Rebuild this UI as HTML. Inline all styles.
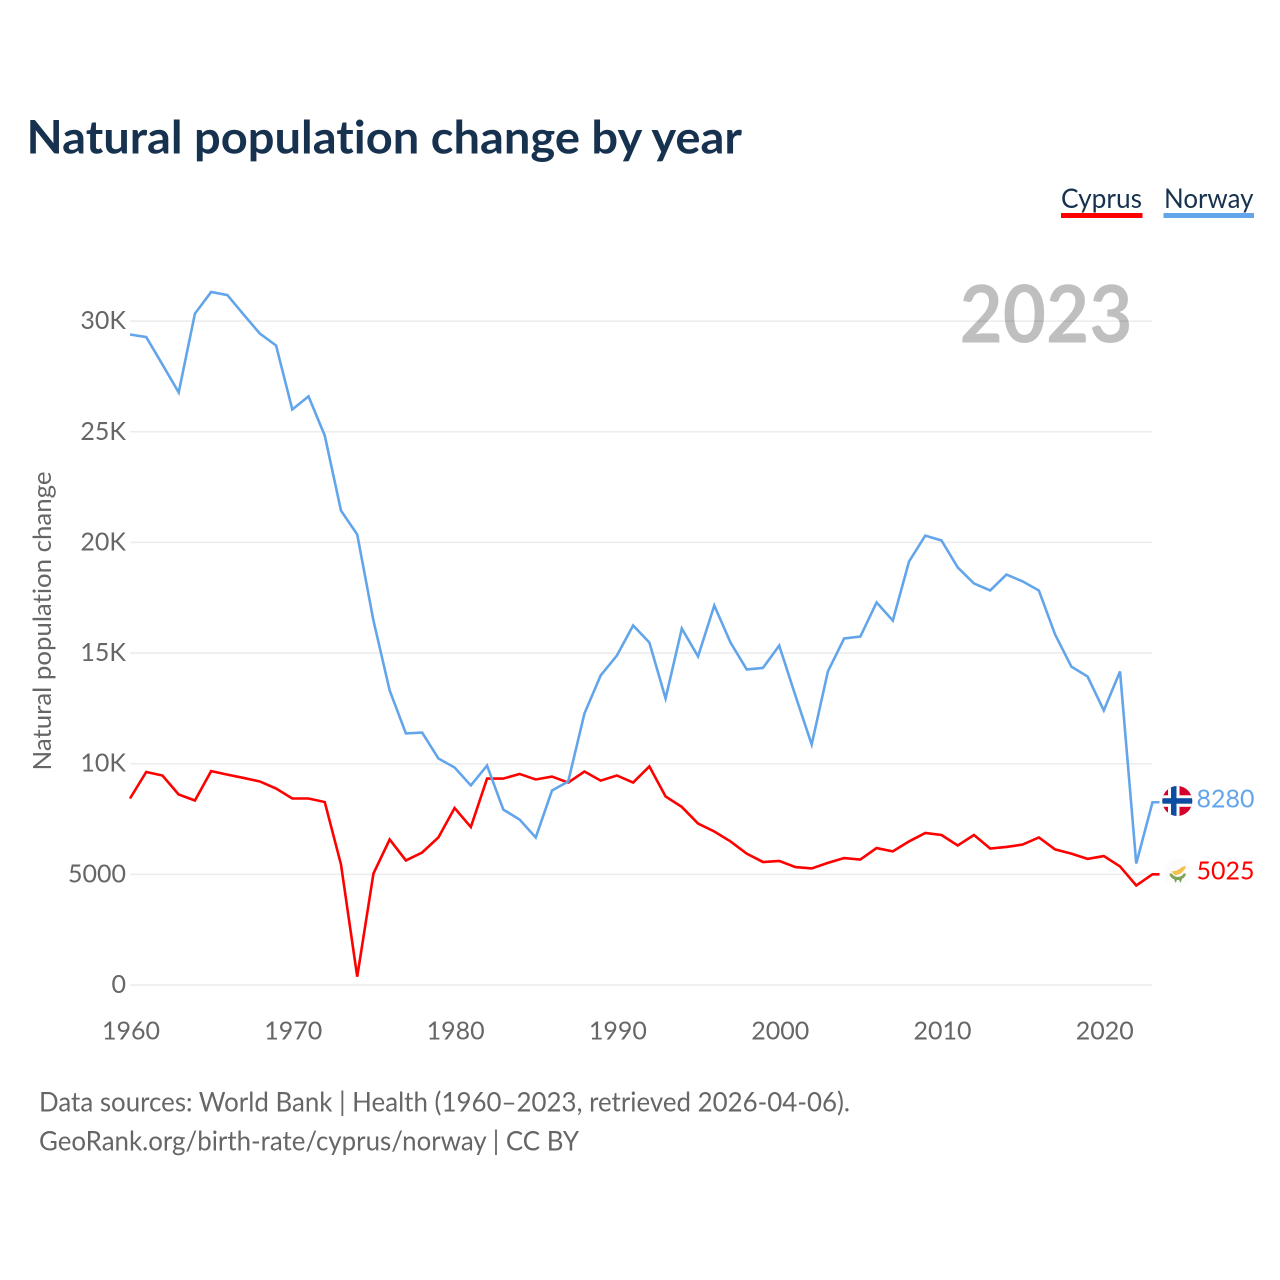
<!DOCTYPE html>
<html lang="en">
<head>
<meta charset="utf-8">
<title>Natural population change by year</title>
<style>
html,body{margin:0;padding:0;background:#fff;width:1280px;height:1280px;overflow:hidden}
svg{display:block}
text{font-family:"Lato","Carlito","Liberation Sans",sans-serif;font-variant-ligatures:none;font-feature-settings:"liga" 0,"clig" 0}
</style>
</head>
<body>
<svg id="chart" xmlns="http://www.w3.org/2000/svg" width="1280" height="1280" viewBox="0 0 1280 1280">
  <rect x="0" y="0" width="1280" height="1280" fill="#ffffff"/>
  <text x="26.5" y="153.5" font-size="46" font-weight="700" fill="#17324f" textLength="715.5" lengthAdjust="spacingAndGlyphs">Natural population change by year</text>
  <g>
    <g>
      <text x="1061" y="208" font-size="27" fill="#17324f" textLength="81" lengthAdjust="spacingAndGlyphs">Cyprus</text>
      <rect x="1061" y="213" width="81.5" height="5" fill="#ff0000"/>
    </g>
    <g>
      <text x="1164" y="208" font-size="27" fill="#17324f" textLength="89.5" lengthAdjust="spacingAndGlyphs">Norway</text>
      <rect x="1163.5" y="213" width="90.5" height="5" fill="#63a5ea"/>
    </g>
  </g>
  <g id="grid"></g>
  <text x="959.5" y="342.5" font-size="80" font-weight="700" fill="#000000" fill-opacity="0.25" textLength="173" lengthAdjust="spacingAndGlyphs">2023</text>
  <g id="yticks"></g>
  <g id="xticks"></g>
  <text transform="translate(51,621) rotate(-90)" text-anchor="middle" font-size="25" fill="#666666" textLength="299" lengthAdjust="spacingAndGlyphs">Natural population change</text>
  <g id="series"></g>
  <g id="end-labels"></g>
  <defs>
    <clipPath id="clip-no"><circle cx="1177.3" cy="801" r="15"/></clipPath>
  </defs>
  <g clip-path="url(#clip-no)">
    <rect x="1162" y="786" width="31" height="31" fill="#d5002b"/>
    <rect x="1168" y="786" width="11.5" height="31" fill="#ffffff"/>
    <rect x="1162" y="795.3" width="31" height="11.5" fill="#ffffff"/>
    <rect x="1171" y="786" width="5.5" height="31" fill="#0a4da2"/>
    <rect x="1162" y="798.2" width="31" height="5.5" fill="#0a4da2"/>
  </g>
  <g>
    <circle cx="1177.5" cy="873" r="14.5" fill="#fcfcfc"/>
    <path d="M1171.5 871.5 L1177 870.5 L1183 866.5 L1186 866 L1185 869 L1181 873.5 L1175 875.5 Z" fill="#f3c14c"/>
    <path d="M1169.5 873.5 C1170 882 1185 882 1186 873.5 L1183.5 873.5 C1182 878 1173.5 878 1172 873.5 Z" fill="#7da356"/>
    <path d="M1174 879 L1175.5 883 L1177 880 L1179 880 L1180.5 883 L1182 879 Z" fill="#7da356"/>
  </g>
  <text x="39" y="1111.5" font-size="27" fill="#666666" textLength="811" lengthAdjust="spacingAndGlyphs">Data sources: World Bank | Health (1960–2023, retrieved 2026-04-06).</text>
  <text x="39" y="1150.5" font-size="27" fill="#666666" textLength="540" lengthAdjust="spacingAndGlyphs">GeoRank.org/birth-rate/cyprus/norway | CC BY</text>
</svg>
<script>
const years = [1960,1961,1962,1963,1964,1965,1966,1967,1968,1969,1970,1971,1972,1973,1974,1975,1976,1977,1978,1979,1980,1981,1982,1983,1984,1985,1986,1987,1988,1989,1990,1991,1992,1993,1994,1995,1996,1997,1998,1999,2000,2001,2002,2003,2004,2005,2006,2007,2008,2009,2010,2011,2012,2013,2014,2015,2016,2017,2018,2019,2020,2021,2022,2023];
const norwayValues = [29417,29300,28060,26800,30360,31340,31200,30320,29460,28920,26030,26620,24850,21460,20380,16490,13330,11390,11430,10260,9850,9040,9940,7950,7500,6690,8810,9220,12290,14010,14910,16270,15500,12970,16130,14870,17170,15500,14280,14350,15360,13100,10890,14190,15680,15770,17310,16490,19160,20330,20110,18890,18170,17850,18570,18260,17850,15860,14410,13960,12430,14190,5510,8280];
const cyprusValues = [8450,9650,9490,8630,8360,9690,9530,9380,9220,8900,8450,8450,8290,5470,400,5060,6600,5650,6010,6690,8020,7160,9350,9350,9560,9310,9440,9170,9670,9260,9490,9170,9900,8540,8070,7320,6960,6510,5960,5580,5630,5350,5290,5540,5760,5690,6210,6060,6510,6890,6800,6330,6800,6190,6260,6370,6690,6150,5960,5720,5850,5380,4520,5025];
const yTickValues = [0,5000,10000,15000,20000,25000,30000];
const yTickLabels = ['0','5000','10K','15K','20K','25K','30K'];
const xTickValues = [1960,1970,1980,1990,2000,2010,2020];

const NS = 'http://www.w3.org/2000/svg';
const X0 = 130, XPERYEAR = 16.23, Y0 = 985, YPERUNIT = 0.02213, LINE_DY = 0.5;
function xScale(year){ return X0 + (year - years[0]) * XPERYEAR; }
function yScale(value){ return Y0 - value * YPERUNIT; }
function make(tag, attrs, parent){
  const el = document.createElementNS(NS, tag);
  for (const k in attrs) el.setAttribute(k, attrs[k]);
  parent.appendChild(el);
  return el;
}
const gridG = document.getElementById('grid');
const yG = document.getElementById('yticks');
const xG = document.getElementById('xticks');
const seriesG = document.getElementById('series');
const endG = document.getElementById('end-labels');

yTickValues.forEach(function(v, i){
  const line = make('line', {x1:xScale(years[0]), x2:1152, y1:yScale(v), y2:yScale(v), stroke:'#ececec', 'stroke-width':1.5}, gridG);
  
  
  const t = make('text', {x:126, y:yScale(v)+8, 'text-anchor':'end', 'font-size':25, fill:'#666666'}, yG);
  
  
  t.textContent = yTickLabels[i];
});
xTickValues.forEach(function(y){
  const t = make('text', {x:xScale(y)+1, y:1039.5, 'text-anchor':'middle', 'font-size':25, fill:'#666666'}, xG);
  
  
  t.textContent = String(y);
});
function drawSeries(values, color, name){
  const pts = values.map(function(v, i){ return xScale(years[i]).toFixed(2) + ',' + (yScale(v) + LINE_DY).toFixed(2); });
  const last = values[values.length - 1];
  pts.push((xScale(years[years.length - 1]) + 7).toFixed(2) + ',' + (yScale(last) + LINE_DY).toFixed(2));
  const line = make('polyline', {points:pts.join(' '), fill:'none', stroke:color, 'stroke-width':2.6, 'stroke-linejoin':'miter'}, seriesG);
  
  
}
drawSeries(cyprusValues, '#ff0000', 'cyprus');
drawSeries(norwayValues, '#63a5ea', 'norway');
function drawEnd(values, color, name, yPos){
  const t = make('text', {x:1196.5, y:yPos, 'font-size':25, fill:color}, endG);
  
  
  t.textContent = String(values[values.length - 1]);
}
drawEnd(norwayValues, '#63a5ea', 'norway', 807.5);
drawEnd(cyprusValues, '#ff0000', 'cyprus', 879.5);
</script>
</body>
</html>
